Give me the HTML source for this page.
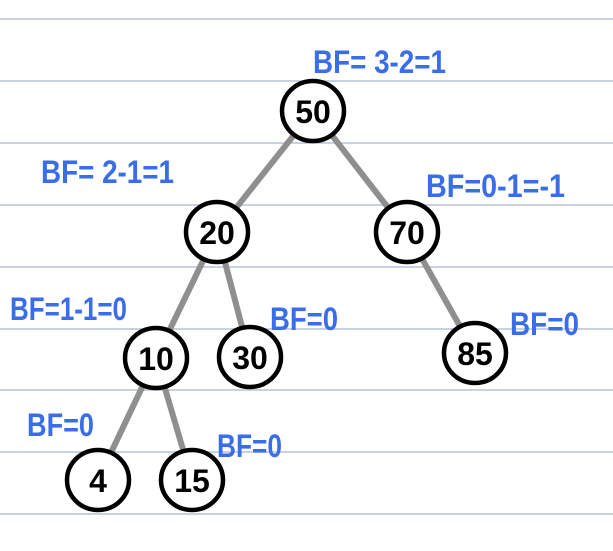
<!DOCTYPE html>
<html><head><meta charset="utf-8"><style>
html,body{margin:0;padding:0;background:#fff;width:613px;height:551px;overflow:hidden}
svg{display:block}
.bf{fill:#3a6ee8;font-family:"Liberation Sans",sans-serif;font-size:32px;font-weight:bold}
.nv{fill:#000;font-family:"Liberation Sans",sans-serif;font-size:32px;font-weight:bold}
</style></head><body>
<svg width="613" height="551" viewBox="0 0 613 551">
<g id="lines"></g>
<g id="edges"></g>
<g id="nodes"></g>
<g id="labels"></g>
</svg>
<script>
const ns="http://www.w3.org/2000/svg";
const lineYs=[19,81,143,205,267,329,390,452,514];
const nodeValues=["50","20","70","10","30","85","4","15"];
const nodeX=[313,217,407,156,250,475,98,192];
const nodeY=[111,232,232,358,357,353,480,480];
const edgeFrom=[0,0,1,1,2,3,3];
const edgeTo=[1,2,3,4,5,6,7];
const bfTexts=["BF= 3-2=1","BF= 2-1=1","BF=0-1=-1","BF=1-1=0","BF=0","BF=0","BF=0","BF=0"];
const bfX=[313,41,426,10,270,510,27,217];
const bfY=[73,183,197,320,330,335,436,457];
const bfW=[133,133,139,117,68,69,67,65];
const R=30;
function mk(t,a,p){const e=document.createElementNS(ns,t);for(const k in a)e.setAttribute(k,a[k]);p.appendChild(e);return e;}
const L=document.getElementById('lines');
lineYs.forEach(y=>{const e=mk('line',{x1:0,x2:613,y1:y,y2:y,stroke:'#b8c2d4','stroke-width':1.5},L);

});
const E=document.getElementById('edges');
edgeFrom.forEach((f,i)=>{const t=edgeTo[i];
const dx=nodeX[t]-nodeX[f],dy=nodeY[t]-nodeY[f],d=Math.hypot(dx,dy);
const ux=dx/d,uy=dy/d;
const e=mk('line',{x1:nodeX[f]+ux*(R+2),y1:nodeY[f]+uy*(R+2),x2:nodeX[t]-ux*(R+2),y2:nodeY[t]-uy*(R+2),stroke:'#8f8f8f','stroke-width':6,'stroke-linecap':'round'},E);

});
const N=document.getElementById('nodes');
nodeValues.forEach((v,i)=>{const g=mk('g',{},N);


mk('ellipse',{cx:nodeX[i],cy:nodeY[i],rx:R+1,ry:R,fill:'#fff',stroke:'#000','stroke-width':4.5},g);
const t=mk('text',{x:nodeX[i],y:nodeY[i]+12,'text-anchor':'middle',class:'nv'},g);t.textContent=v;});
const B=document.getElementById('labels');
bfTexts.forEach((s,i)=>{const t=mk('text',{x:bfX[i],y:bfY[i],class:'bf',textLength:bfW[i],lengthAdjust:'spacingAndGlyphs'},B);


t.textContent=s;});
</script>
</body></html>
